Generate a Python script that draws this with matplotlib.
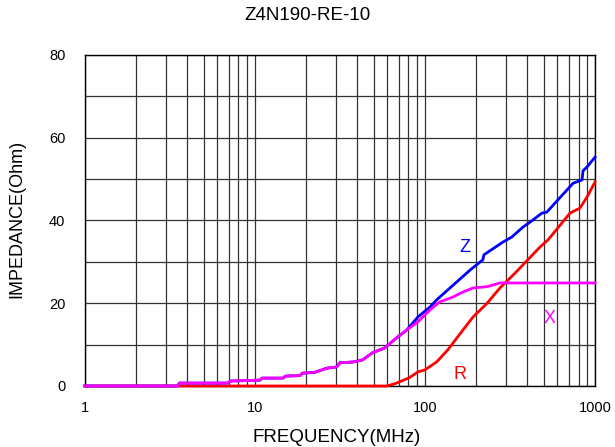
import matplotlib
matplotlib.use("Agg")
import matplotlib.pyplot as plt
from matplotlib.ticker import LogLocator, FixedLocator, NullFormatter

plt.rcParams['font.family'] = ['Liberation Sans', 'DejaVu Sans']

title = "Z4N190-RE-10"
xlabel = "FREQUENCY(MHz)"
ylabel = "IMPEDANCE(Ohm)"

# X (reactance) curve
x_freq = [1, 3.5, 3.6, 6.9, 7.2, 10.7, 11.0, 14.6, 15.2, 18.4, 19.0, 22.5, 26.5, 30.3,
          31.6, 37.7, 43, 49, 58, 68, 78, 91, 107, 122, 146, 167, 192, 232, 276, 1000]
x_val = [0, 0, 0.7, 0.7, 1.2, 1.4, 1.9, 1.9, 2.4, 2.5, 3.1, 3.3, 4.3, 4.6,
         5.6, 5.8, 6.3, 8.0, 9.2, 11.6, 13.5, 15.5, 18.4, 20.3, 21.5, 22.7, 23.7, 24.0, 24.9, 24.9]

# R (resistance) curve
r_freq = [1, 60, 68, 81, 91, 100, 117, 136, 167, 192, 232, 276, 339, 475, 529, 713, 816, 898, 1000]
r_val = [0, 0, 0.7, 2.0, 3.4, 3.9, 5.8, 8.7, 13.5, 16.7, 20.0, 23.7, 27.3, 33.6, 35.3, 41.8, 43.0, 45.7, 49.3]

# Z (impedance) curve
z_freq = [1, 3.5, 3.6, 6.9, 7.2, 10.7, 11.0, 14.6, 15.2, 18.4, 19.0, 22.5, 26.5, 30.3,
          31.6, 37.7, 43, 49, 58, 68, 78, 91, 107, 117, 184, 219, 222, 288, 324, 377, 415,
          488, 520, 743, 839, 850, 900, 1000]
z_val = [0, 0, 0.7, 0.7, 1.2, 1.4, 1.9, 1.9, 2.4, 2.5, 3.1, 3.3, 4.3, 4.6,
         5.6, 5.8, 6.3, 8.0, 9.2, 11.6, 13.5, 16.7, 19.1, 20.8, 28.0, 30.5, 31.7, 34.8, 36.0, 38.4, 39.6,
         41.8, 42.0, 49.0, 49.8, 52.0, 53.0, 55.3]

fig = plt.figure(figsize=(6.15, 4.47), dpi=100)
ax = fig.add_axes([0.138, 0.1365, 0.8295, 0.7405])

ax.set_xscale('log')
ax.set_xlim(1, 1000)
ax.set_ylim(0, 80)

ax.plot(r_freq, r_val, color='#ff0000', lw=2, zorder=3, clip_on=False)
ax.plot(z_freq, z_val, color='#0000ff', lw=2, zorder=3, clip_on=False)
ax.plot(x_freq, x_val, color='#ff00ff', lw=2, zorder=4, clip_on=False)

ax.xaxis.set_major_locator(FixedLocator([1, 10, 100, 1000]))
ax.set_xticklabels(['1', '10', '100', '1000'])
ax.xaxis.set_minor_locator(LogLocator(base=10, subs=range(2, 10)))
ax.xaxis.set_minor_formatter(NullFormatter())
ax.yaxis.set_major_locator(FixedLocator([0, 20, 40, 60, 80]))
ax.yaxis.set_minor_locator(FixedLocator([10, 30, 50, 70]))

ax.grid(True, which='both', color='#333333', lw=0.9)
ax.tick_params(which='both', length=0, labelsize=10.5)
ax.tick_params(axis='y', pad=14)
ax.tick_params(axis='x', pad=11)
for s in ax.spines.values():
    s.set_color('black')
    s.set_linewidth(1)

ax.text(172, 33.5, 'Z', color='#0000ff', fontsize=13, ha='center', va='center')
ax.text(543, 16.4, 'X', color='#ff00ff', fontsize=13, ha='center', va='center')
ax.text(161, 2.7, 'R', color='#ff0000', fontsize=13, ha='center', va='center')

fig.text(0.5, 0.965, title, ha='center', va='center', fontsize=13.5)
fig.text(0.547, 0.022, xlabel, ha='center', va='center', fontsize=13.5)
fig.text(0.027, 0.51, ylabel, ha='center', va='center', fontsize=13, rotation=90)

fig.savefig('out.png', dpi=100)
